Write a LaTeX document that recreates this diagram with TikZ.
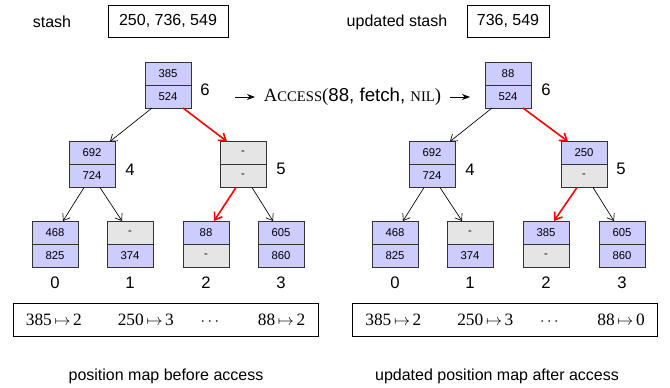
\documentclass[tikz,border=0pt]{standalone}
\usepackage{fontspec}
\setmainfont{Liberation Sans}
\newfontfamily\tnr{Liberation Serif}
\usetikzlibrary{positioning,calc,arrows.meta}
\tikzset{
  cell/.style={draw=black!80,line width=0.6pt,minimum width=34.5pt,minimum height=17.25pt,
               inner sep=0pt,outer sep=0pt,font=\fontsize{8.5}{10}\selectfont},
  real/.style={cell,fill=blue!20},
  dummy/.style={cell,fill=black!10},
  lvl/.style={font=\fontsize{12.5}{15}\selectfont},
  txt/.style={font=\fontsize{12}{14}\selectfont},
  box/.style={draw,line width=0.7pt,minimum height=24pt,inner sep=0pt,font=\fontsize{12}{14}\selectfont},
  mapbox/.style={draw,line width=0.7pt,minimum width=228.75pt,minimum height=24.75pt,
                 inner xsep=0pt,font=\fontsize{13}{15}\tnr},
  edge/.style={-{Straight Barb[length=4.5pt,width=6.5pt]},line width=0.5pt},
  redge/.style={-{Straight Barb[length=5pt,width=7pt]},red,line width=1.2pt},
  accarrow/.style={-{Stealth[length=6pt,width=4.5pt]},line width=0.6pt}
}
\newcommand{\acc}{{\tnr A{\fontsize{11}{13}\selectfont CCESS}(}}
\newcommand{\nil}{{\tnr{\fontsize{11}{13}\selectfont NIL})}}

\begin{document}
\begin{tikzpicture}[x=0.75pt,y=-0.75pt]
  \useasboundingbox (0,0) rectangle (670,388);

  % stash before and after
  \node[txt] (stash) at (52,22) {stash};
  \node[box,minimum width=90pt] (stashbox) at (168,21) {250, 736, 549};
  \node[txt] (ustash) at (397,22) {updated stash};
  \node[box,minimum width=61.5pt] (ustashbox) at (508,21) {736, 549};

  % tree before access
  \node[real] (b6t) at (168,73.5) {385};
  \node[real,below=0pt of b6t] (b6b) {524};
  \node[lvl] (b6l) at (205,90) {6};
  \node[real] (b4t) at (92,153) {692};
  \node[real,below=0pt of b4t] (b4b) {724};
  \node[lvl] (b4l) at (130,170) {4};
  \node[dummy] (b5t) at (243,153) {-};
  \node[dummy,below=0pt of b5t] (b5b) {-};
  \node[lvl] (b5l) at (281,169) {5};
  \node[real] (b0t) at (55,232.5) {468};
  \node[real,below=0pt of b0t] (b0b) {825};
  \node[dummy] (b1t) at (130,232.5) {-};
  \node[real,below=0pt of b1t] (b1b) {374};
  \node[real] (b2t) at (206,232.5) {88};
  \node[dummy,below=0pt of b2t] (b2b) {-};
  \node[real] (b3t) at (281,232.5) {605};
  \node[real,below=0pt of b3t] (b3b) {860};
  \node[lvl] (b0l) at (55,283) {0};
  \node[lvl] (b1l) at (130,283) {1};
  \node[lvl] (b2l) at (206,283) {2};
  \node[lvl] (b3l) at (281,283) {3};
  \draw[edge]  ($(b6b.south)+(-16,0)$) -- ($(b4t.north)+(18,0)$);
  \draw[redge] ($(b6b.south)+(15,0)$)  -- ($(b5t.north)+(-16,0)$);
  \draw[edge]  ($(b4b.south)+(-8,0)$)  -- ($(b0t.north)+(8,0)$);
  \draw[edge]  ($(b4b.south)+(8,0)$)   -- ($(b1t.north)+(-8,0)$);
  \draw[redge] ($(b5b.south)+(-7,0)$)  -- ($(b2t.north)+(8,0)$);
  \draw[edge]  ($(b5b.south)+(9,0)$)   -- ($(b3t.north)+(-8,0)$);

  % the access
  \coordinate (accin) at (235,97);
  \coordinate (accout) at (470,97);
  \node[font=\fontsize{14}{16}\selectfont,inner sep=0pt] (access) at (352.5,97) {\acc 88, fetch, \nil};
  \draw[accarrow] (accin) -- ++(20,0);
  \draw[accarrow] ($(accout)+(-20,0)$) -- (accout);

  % tree after access
  \node[real] (a6t) at (508,73.5) {88};
  \node[real,below=0pt of a6t] (a6b) {524};
  \node[lvl] (a6l) at (546,90) {6};
  \node[real] (a4t) at (432,153) {692};
  \node[real,below=0pt of a4t] (a4b) {724};
  \node[lvl] (a4l) at (470,170) {4};
  \node[real] (a5t) at (584,153) {250};
  \node[dummy,below=0pt of a5t] (a5b) {-};
  \node[lvl] (a5l) at (621,169) {5};
  \node[real] (a0t) at (395,232.5) {468};
  \node[real,below=0pt of a0t] (a0b) {825};
  \node[dummy] (a1t) at (470,232.5) {-};
  \node[real,below=0pt of a1t] (a1b) {374};
  \node[real] (a2t) at (546,232.5) {385};
  \node[dummy,below=0pt of a2t] (a2b) {-};
  \node[real] (a3t) at (622,232.5) {605};
  \node[real,below=0pt of a3t] (a3b) {860};
  \node[lvl] (a0l) at (395,283) {0};
  \node[lvl] (a1l) at (470,283) {1};
  \node[lvl] (a2l) at (546,283) {2};
  \node[lvl] (a3l) at (622,283) {3};
  \draw[edge]  ($(a6b.south)+(-16,0)$) -- ($(a4t.north)+(18,0)$);
  \draw[redge] ($(a6b.south)+(15,0)$)  -- ($(a5t.north)+(-16,0)$);
  \draw[edge]  ($(a4b.south)+(-8,0)$)  -- ($(a0t.north)+(8,0)$);
  \draw[edge]  ($(a4b.south)+(8,0)$)   -- ($(a1t.north)+(-8,0)$);
  \draw[redge] ($(a5b.south)+(-7,0)$)  -- ($(a2t.north)+(8,0)$);
  \draw[edge]  ($(a5b.south)+(9,0)$)   -- ($(a3t.north)+(-8,0)$);

  % position maps
  \node[mapbox] (bmap) at (165.5,319.5)
    {385$\,\mapsto\,$2\hspace{27pt}250$\,\mapsto\,$3\hspace{20pt}$\cdots$\hspace{29pt}88$\,\mapsto\,$2};
  \node[txt] (bcap) at (166,376) {position map before access};
  \node[mapbox] (amap) at (505,319.5)
    {385$\,\mapsto\,$2\hspace{27pt}250$\,\mapsto\,$3\hspace{20pt}$\cdots$\hspace{29pt}88$\,\mapsto\,$0};
  \node[txt] (acap) at (497,376) {updated position map after access};
\end{tikzpicture}
\end{document}
